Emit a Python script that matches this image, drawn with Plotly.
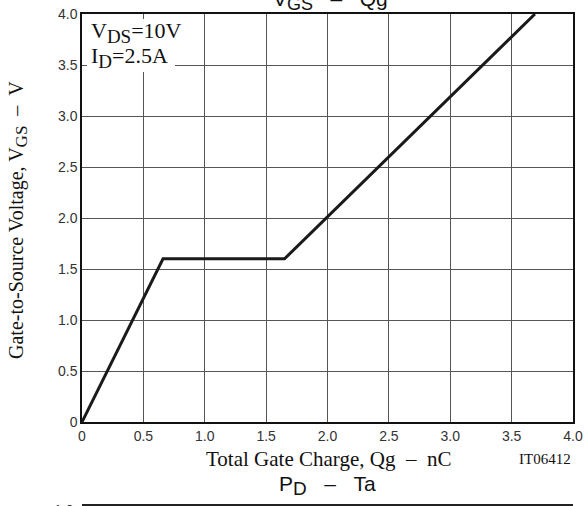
import plotly.graph_objects as go

# Data
qg_nc = [0.0, 0.66, 1.65, 3.69]
vgs_v = [0.0, 1.6, 1.6, 4.0]
tick_vals = [0, 0.5, 1.0, 1.5, 2.0, 2.5, 3.0, 3.5, 4.0]
tick_text = ["0", "0.5", "1.0", "1.5", "2.0", "2.5", "3.0", "3.5", "4.0"]

SERIF = "Liberation Serif, Times New Roman, serif"
SANS = "Liberation Sans, Arial, sans-serif"
NB = "\u00a0"

W, H = 584, 506
L, R, T, B = 82, 11, 14, 84
PW, PH = W - L - R, H - T - B


def px(xp):
    return (xp - L) / PW


def py(yp):
    return (H - B - yp) / PH


def sub(s, size):
    return f'<sub><span style="font-size:{size}px">{s}</span></sub>'


fig = go.Figure()
fig.add_trace(go.Scatter(x=qg_nc, y=vgs_v, mode="lines",
                         line=dict(color="#1a1a1a", width=3),
                         showlegend=False, hoverinfo="skip"))

axis_common = dict(
    showgrid=True, gridcolor="#555555", gridwidth=1,
    zeroline=False, showline=True, linecolor="#111111", linewidth=1.5,
    mirror=True, ticks="", tickvals=tick_vals, ticktext=tick_text,
    tickfont=dict(family=SANS, size=14, color="#333333"),
    automargin=False,
)

fig.update_xaxes(range=[0, 4], **axis_common)
fig.update_yaxes(range=[0, 4], **axis_common)

shapes = [
    # white box behind condition text
    dict(type="rect", xref="paper", yref="paper",
         x0=px(87), x1=px(175), y0=py(72), y1=py(19),
         fillcolor="white", line=dict(width=0), layer="above"),
    # top border of next chart (cut off)
    dict(type="line", xref="paper", yref="paper",
         x0=0, x1=1, y0=py(505), y1=py(505),
         line=dict(color="#222222", width=2)),
]

annotations = [
    dict(text="V" + sub("DS", 19) + "=10V", x=px(89), y=py(33), xref="paper", yref="paper",
         xanchor="left", yanchor="middle", showarrow=False,
         font=dict(family=SERIF, size=22, color="#111111")),
    dict(text="I" + sub("D", 19) + "=2.5A", x=px(89), y=py(58), xref="paper", yref="paper",
         xanchor="left", yanchor="middle", showarrow=False,
         font=dict(family=SERIF, size=22, color="#111111")),
    dict(text="V" + sub("GS", 18) + NB * 3 + "–" + NB * 3 + "Qg", x=px(330), y=py(0.5),
         xref="paper", yref="paper",
         xanchor="center", yanchor="middle", showarrow=False,
         font=dict(family=SANS, size=21, color="#111111")),
    dict(text="Total Gate Charge, Qg" + NB * 2 + "–" + NB * 2 + "nC", x=px(328), y=py(459),
         xref="paper", yref="paper",
         xanchor="center", yanchor="middle", showarrow=False,
         font=dict(family=SERIF, size=21, color="#111111")),
    dict(text="IT06412", x=px(573), y=py(459), xref="paper", yref="paper",
         xanchor="right", yanchor="middle", showarrow=False,
         font=dict(family=SERIF, size=15, color="#111111")),
    dict(text="Gate-to-Source Voltage, V" + sub("GS", 17) + NB * 2 + "–" + NB * 2 + "V",
         x=px(18), y=py(220),
         xref="paper", yref="paper", xanchor="center", yanchor="middle",
         textangle=-90, showarrow=False,
         font=dict(family=SERIF, size=20, color="#111111")),
    dict(text="P" + sub("D", 19) + NB * 3 + "–" + NB * 3 + "Ta", x=px(327), y=py(486),
         xref="paper", yref="paper",
         xanchor="center", yanchor="middle", showarrow=False,
         font=dict(family=SANS, size=21, color="#111111")),
    dict(text="1.0", x=px(76), y=py(510), xref="paper", yref="paper",
         xanchor="right", yanchor="middle", showarrow=False,
         font=dict(family=SANS, size=14, color="#333333")),
]

fig.update_layout(
    width=W, height=H,
    margin=dict(l=L, r=R, t=T, b=B, pad=0),
    paper_bgcolor="white", plot_bgcolor="white",
    shapes=shapes, annotations=annotations,
    showlegend=False,
)

fig.write_html("out.html")
